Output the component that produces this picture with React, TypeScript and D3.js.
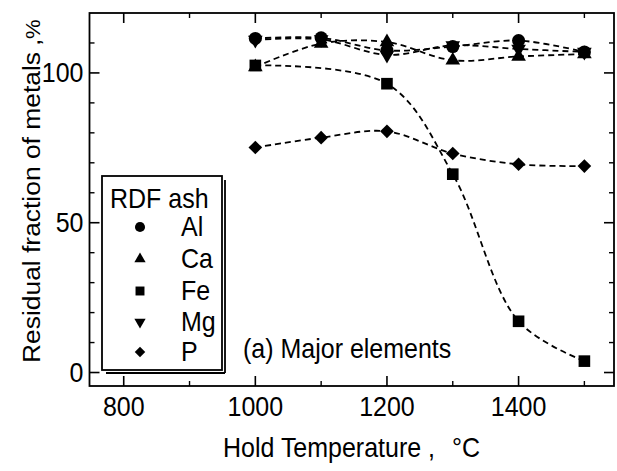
import React from "react";
import * as d3 from "d3";

const temps = [1000, 1100, 1200, 1300, 1400, 1500];
const alValues = [111.5, 111.7, 107.5, 108.8, 110.8, 107.0];
const caValues = [102.0, 109.8, 110.3, 104.2, 105.5, 106.3];
const feTemps = [1000, 1200, 1300, 1400, 1500];
const feValues = [102.5, 96.4, 66.2, 17.1, 3.8];
const mgValues = [111.0, 111.2, 106.0, 109.2, 108.0, 107.0];
const pValues = [75.1, 78.4, 80.5, 73.1, 69.5, 68.9];

const xMajorTicks = [800, 1000, 1200, 1400];
const xMinorTicks = [900, 1100, 1300, 1500];
const yMajorTicks = [0, 50, 100];
const yMinorTicks = [10, 20, 30, 40, 60, 70, 80, 90, 110];

const legendTitle = "RDF ash";
const legendNames = ["Al", "Ca", "Fe", "Mg", "P"];
const xTitle = "Hold Temperature ,";
const xUnit = "°C";
const yTitle = "Residual fraction of metals";
const yComma = ",";
const yUnit = "%";
const panelLabel = "(a) Major elements";

type Shape = "circle" | "up" | "square" | "down" | "diamond";
const shapes: Shape[] = ["circle", "up", "square", "down", "diamond"];

function markerPath(shape: Shape, s: number): { d: string; rot: number } {
  switch (shape) {
    case "circle":
      return { d: d3.symbol(d3.symbolCircle, s * s * 0.8)()!, rot: 0 };
    case "up":
      return { d: d3.symbol(d3.symbolTriangle, s * s * 0.55)()!, rot: 0 };
    case "down":
      return { d: d3.symbol(d3.symbolTriangle, s * s * 0.55)()!, rot: 180 };
    case "square":
      return { d: d3.symbol(d3.symbolSquare, s * s * 0.8)()!, rot: 0 };
    case "diamond":
      return { d: d3.symbol(d3.symbolSquare, s * s * 0.55)()!, rot: 45 };
  }
}

const FONT = "'Liberation Sans', Arial, Helvetica, sans-serif";

export default function App() {
  const W = 617;
  const H = 471;
  const left = 89.5;
  const right = 614;
  const top = 13;
  const bottom = 386;

  const x = d3.scaleLinear().domain([748, 1545]).range([left, right]);
  const y = d3.scaleLinear().domain([-4.5, 120]).range([bottom, top]);

  const series = [
    { name: "Al", xs: temps, ys: alValues, shape: "circle" as Shape },
    { name: "Ca", xs: temps, ys: caValues, shape: "up" as Shape },
    { name: "Mg", xs: temps, ys: mgValues, shape: "down" as Shape },
    { name: "P", xs: temps, ys: pValues, shape: "diamond" as Shape },
    { name: "Fe", xs: feTemps, ys: feValues, shape: "square" as Shape },
  ];

  const line = d3
    .line<[number, number]>()
    .x((d) => x(d[0]))
    .y((d) => y(d[1]))
    .curve(d3.curveCatmullRom.alpha(0.5));

  const textStyle = { fontFamily: FONT, fontSize: 25, fill: "#000" } as const;
  const sy = 1.1;

  const legX = 102;
  const legY = 176;
  const legW = 120;
  const legH = 194;
  const rowY = [227, 259, 291, 322, 352];

  return (
    <svg
      width={W}
      height={H}
      style={{ position: "fixed", left: 0, top: 0, background: "#fff" }}
    >
      <rect x={0} y={0} width={W} height={H} fill="#fff" />
      {/* plot frame */}
      <rect
        x={left}
        y={top}
        width={right - left}
        height={bottom - top}
        fill="none"
        stroke="#000"
        strokeWidth={1.8}
      />
      {/* x ticks bottom & top */}
      {xMajorTicks.map((t) => (
        <g key={"xM" + t}>
          <line x1={x(t)} x2={x(t)} y1={bottom} y2={bottom - 10} stroke="#000" strokeWidth={1.6} />
          <line x1={x(t)} x2={x(t)} y1={top} y2={top + 10} stroke="#000" strokeWidth={1.6} />
          <text
            transform={`translate(${x(t)},${bottom + 30}) scale(1,${sy})`}
            textAnchor="middle"
            style={textStyle}
          >
            {t}
          </text>
        </g>
      ))}
      {xMinorTicks.map((t) => (
        <g key={"xm" + t}>
          <line x1={x(t)} x2={x(t)} y1={bottom} y2={bottom - 5} stroke="#000" strokeWidth={1.4} />
          <line x1={x(t)} x2={x(t)} y1={top} y2={top + 5} stroke="#000" strokeWidth={1.4} />
        </g>
      ))}
      {/* y ticks */}
      {yMajorTicks.map((t) => (
        <g key={"yM" + t}>
          <line x1={left} x2={left + 10} y1={y(t)} y2={y(t)} stroke="#000" strokeWidth={1.6} />
          <line x1={right} x2={right - 10} y1={y(t)} y2={y(t)} stroke="#000" strokeWidth={1.6} />
          <text
            transform={`translate(${left - 6},${y(t) + 9}) scale(1,${sy})`}
            textAnchor="end"
            style={textStyle}
          >
            {t}
          </text>
        </g>
      ))}
      {yMinorTicks.map((t) => (
        <g key={"ym" + t}>
          <line x1={left} x2={left + 5} y1={y(t)} y2={y(t)} stroke="#000" strokeWidth={1.4} />
          <line x1={right} x2={right - 5} y1={y(t)} y2={y(t)} stroke="#000" strokeWidth={1.4} />
        </g>
      ))}
      {/* lines */}
      {series.map((s) => (
        <path
          key={"l" + s.name}
          d={line(s.xs.map((t, i) => [t, s.ys[i]] as [number, number]))!}
          fill="none"
          stroke="#000"
          strokeWidth={1.8}
          strokeDasharray="6 4"
        />
      ))}
      {/* markers */}
      {series.map((s) =>
        s.xs.map((t, i) => {
          const m = markerPath(s.shape, 13);
          return (
            <path
              key={"m" + s.name + t}
              d={m.d}
              transform={`translate(${x(t)},${y(s.ys[i])}) rotate(${m.rot})`}
              fill="#000"
            />
          );
        })
      )}
      {/* panel label */}
      <text transform={`translate(243,358) scale(1,${sy})`} style={textStyle}>
        {panelLabel}
      </text>
      {/* legend */}
      <line x1={legX + 4} x2={legX + legW + 3} y1={legY + legH + 3} y2={legY + legH + 3} stroke="#000" strokeWidth={1.8} />
      <line x1={legX + legW + 3} x2={legX + legW + 3} y1={legY + 4} y2={legY + legH + 3} stroke="#000" strokeWidth={1.8} />
      <rect x={legX} y={legY} width={legW} height={legH} fill="#fff" stroke="#000" strokeWidth={1.8} />
      <text transform={`translate(110,208) scale(1,${sy})`} style={textStyle}>
        {legendTitle}
      </text>
      {legendNames.map((n, i) => {
        const m = markerPath(shapes[i], 10);
        return (
          <g key={"leg" + n}>
            <path d={m.d} transform={`translate(140,${rowY[i]}) rotate(${m.rot})`} fill="#000" />
            <text transform={`translate(181,${rowY[i] + 9}) scale(1,${sy})`} style={textStyle}>
              {n}
            </text>
          </g>
        );
      })}
      {/* axis titles */}
      <text transform={`translate(223,457) scale(1,${sy})`} style={textStyle}>
        {xTitle}
      </text>
      <text transform={`translate(452,457) scale(1,${sy})`} style={textStyle}>
        {xUnit}
      </text>
      <text
        transform={`translate(40,363) rotate(-90) scale(${sy},1)`}
        style={{ ...textStyle, fontSize: 24 }}
      >
        {yTitle}
      </text>
      <text
        transform={`translate(40,46) rotate(-90) scale(${sy},1)`}
        style={{ ...textStyle, fontSize: 24 }}
      >
        {yComma}
      </text>
      <text
        transform={`translate(40,39) rotate(-90) scale(${sy},1)`}
        style={{ ...textStyle, fontSize: 20 }}
      >
        {yUnit}
      </text>
    </svg>
  );
}
